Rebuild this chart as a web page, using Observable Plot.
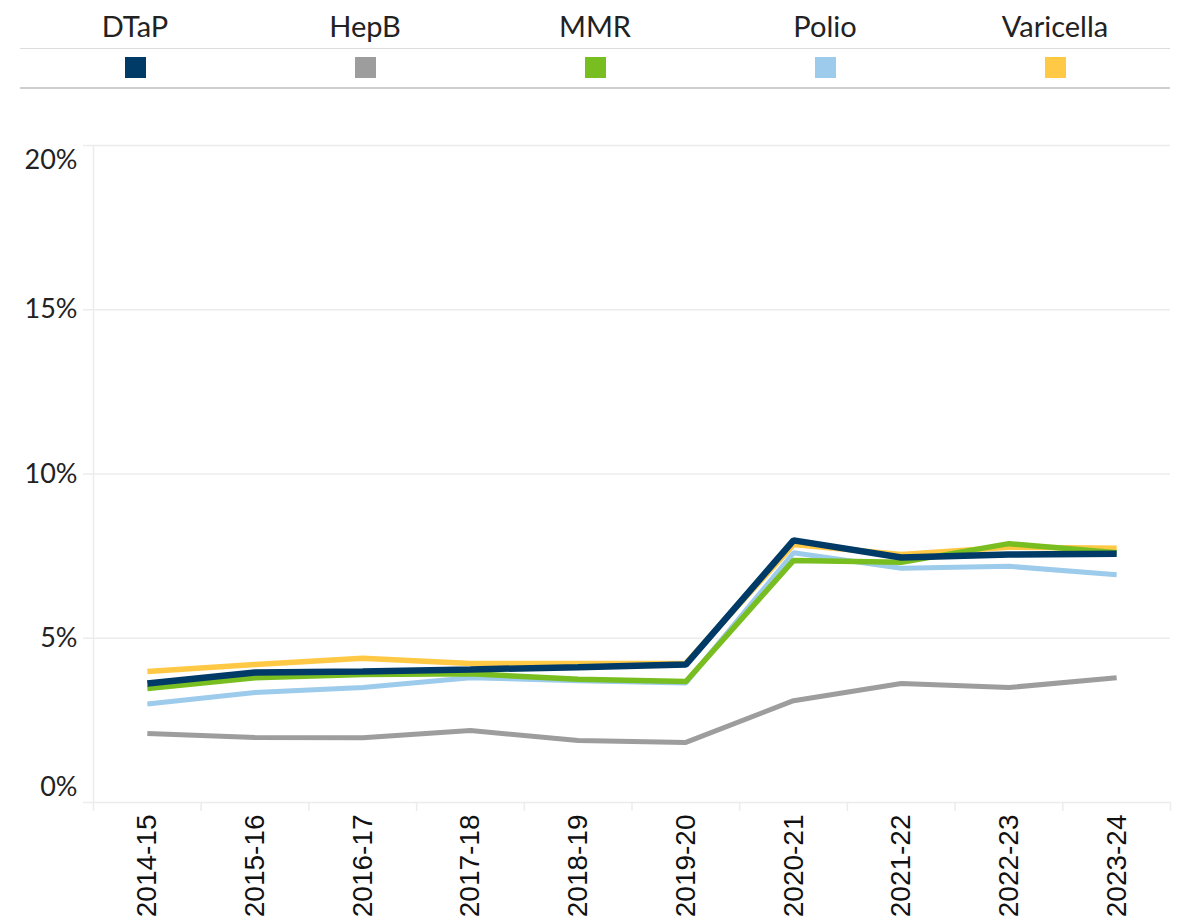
<!DOCTYPE html>
<html>
<head>
<meta charset="utf-8">
<script src="https://cdn.jsdelivr.net/npm/d3@7"></script>
<script src="https://cdn.jsdelivr.net/npm/@observablehq/plot@0.6"></script>
<style>
  html, body { margin: 0; padding: 0; background: #fff; }
  #legend { position: relative; width: 1195px; height: 100px; font-family: Lato, sans-serif; }
  #legend .top { position: absolute; left: 20px; width: 1150px; top: 48px; height: 0; border-top: 1.5px solid #dcdcdc; }
  #legend .bot { position: absolute; left: 20px; width: 1150px; top: 87px; height: 0; border-top: 2.5px solid #cfcfcf; }
  #legend .item { position: absolute; width: 230px; text-align: center; }
  #legend .lab { top: 8px; font-size: 29px; color: #222; line-height: 36px; }
  #legend .sw { position: absolute; top: 57px; width: 21px; height: 21px; }
</style>
</head>
<body>
<div id="legend"></div>
<div id="chart"></div>
<script>
const seasons = ["2014-15","2015-16","2016-17","2017-18","2018-19","2019-20","2020-21","2021-22","2022-23","2023-24"];
const vaccines = ["DTaP","HepB","MMR","Polio","Varicella"];
const colors = ["#003a66","#9d9d9d","#78be20","#9dcbeb","#ffc845"];
const DTaP      = [3.62, 3.96, 3.99, 4.05, 4.12, 4.20, 7.98, 7.46, 7.55, 7.57];
const HepB      = [2.10, 1.98, 1.97, 2.19, 1.89, 1.83, 3.10, 3.62, 3.50, 3.80];
const MMR       = [3.47, 3.80, 3.90, 3.92, 3.75, 3.68, 7.37, 7.31, 7.88, 7.60];
const Polio     = [3.00, 3.35, 3.50, 3.80, 3.71, 3.64, 7.60, 7.13, 7.19, 6.93];
const Varicella = [3.99, 4.20, 4.39, 4.23, 4.23, 4.24, 7.85, 7.55, 7.77, 7.74];
const yTicks = [0, 5, 10, 15, 20];

const seriesValues = {DTaP, HepB, MMR, Polio, Varicella};
const drawOrder = ["HepB","Polio","Varicella","MMR","DTaP"];
const widths = {DTaP: 6.5, HepB: 5, MMR: 5.5, Polio: 5, Varicella: 5.5};
const data = [];
for (const v of vaccines) seriesValues[v].forEach((val, i) => data.push({vaccine: v, season: seasons[i], value: val}));

// legend
const legend = document.getElementById("legend");
legend.innerHTML = '<div class="top"></div><div class="bot"></div>';
vaccines.forEach((v, i) => {
  const left = 20 + i * 230;
  const lab = document.createElement("div");
  lab.className = "item lab"; lab.style.left = left + "px"; lab.textContent = v;
  legend.appendChild(lab);
  const sw = document.createElement("div");
  sw.className = "sw"; sw.style.left = (left + 115 - 10) + "px"; sw.style.background = colors[i];
  legend.appendChild(sw);
});

const W = 1195, mL = 93, mR = 25, mT = 45, mB = 119;
const step = (W - mL - mR) / seasons.length;
const grid = "#ececec";
const yLab = {tickSize: 0, tickPadding: 16, tickFormat: d => d + "%", fontSize: 27, fontFamily: "Lato", fill: "#222", label: null};

const chart = Plot.plot({
  width: W, height: 821,
  marginLeft: mL, marginRight: mR, marginTop: mT, marginBottom: mB,
  style: {background: "#fff", overflow: "visible"},
  x: {type: "point", domain: seasons, padding: 0.5, round: false},
  y: {type: "linear", domain: [0, 20]},
  color: {domain: vaccines, range: colors},
  marks: [
    Plot.ruleY(yTicks, {stroke: grid, strokeWidth: 1.5, insetLeft: -10}),
    Plot.ruleX([seasons[0]], {dx: -step / 2, y1: 20, y2: 0, insetBottom: -9, stroke: grid, strokeWidth: 1.5}),
    Plot.ruleX(seasons, {x: d => d, dx: step / 2, y1: 0, y2: 0, insetBottom: -9, stroke: grid, strokeWidth: 1.5}),
    ...drawOrder.map(v => Plot.lineY(data.filter(d => d.vaccine === v), {
      x: "season", y: "value", stroke: "vaccine", strokeWidth: widths[v], strokeLinejoin: "miter", strokeLinecap: "butt"
    })),
    Plot.axisY([5, 10, 15], yLab),
    Plot.axisY([0], {...yLab, dy: -15}),
    Plot.axisY([20], {...yLab, dy: 15}),
    Plot.axisX(seasons, {tickSize: 0, tickPadding: 12, tickRotate: -90, textAnchor: "end", fontSize: 28, fontFamily: "Liberation Sans, Arial", fill: "#111", label: null})
  ]
});
document.getElementById("chart").appendChild(chart);
</script>
</body>
</html>
